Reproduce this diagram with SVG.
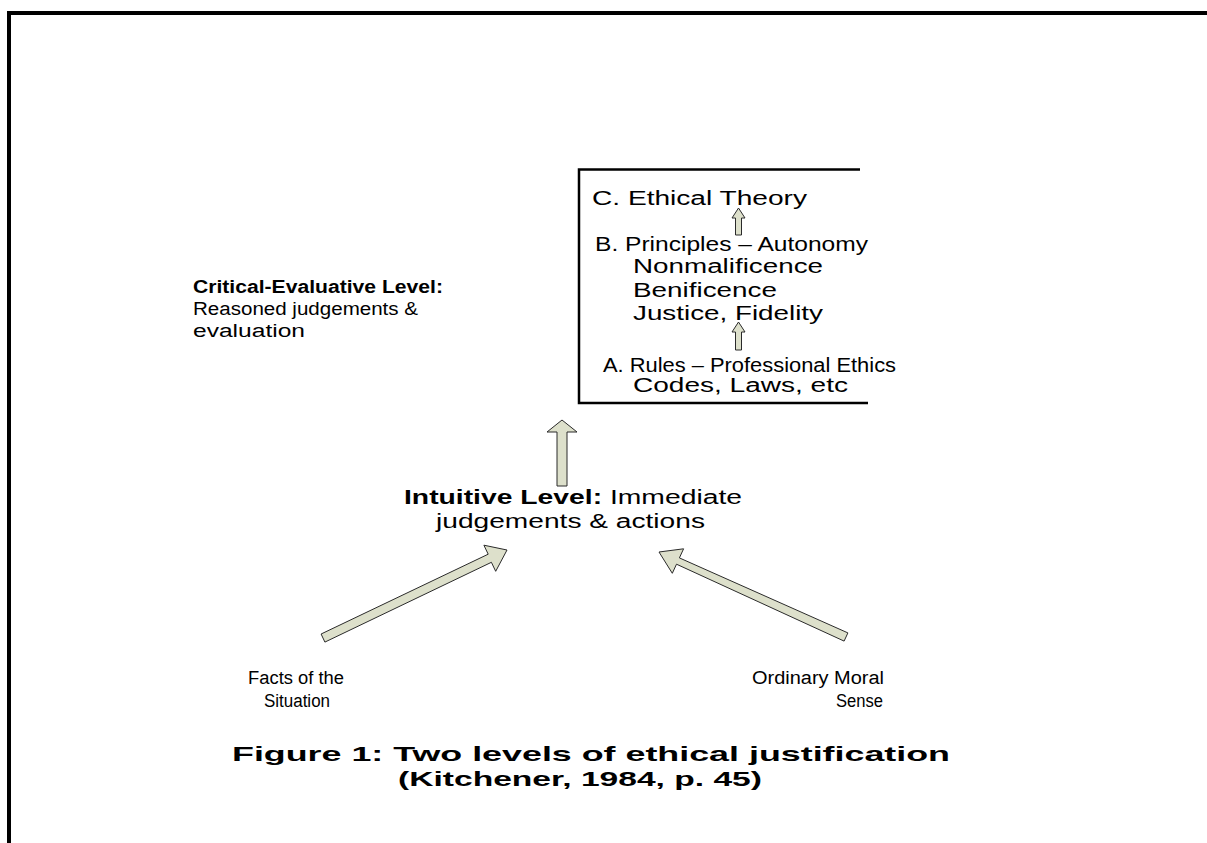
<svg xmlns="http://www.w3.org/2000/svg" width="1207" height="843" viewBox="0 0 1207 843">
<style>
text{font-family:"Liberation Sans",Arial,sans-serif;fill:#000}
.bx{font-size:19.5px}
.lb{font-size:18px}
.cap{font-size:21px;font-weight:bold}
.b{font-weight:bold}
.arr{fill:#dde0cb;stroke:#2a2a2a;stroke-width:1}
</style>
<rect width="1207" height="843" fill="#fff"/>
<g id="page-border" fill="none" stroke="#000" stroke-width="4">
<path d="M9 843 V13 H1207"/>
</g>
<g id="levels-box">
<path d="M860 169.5 H579 V403 H868" fill="none" stroke="#000" stroke-width="2.5"/>
<text class="bx" x="592" y="205" textLength="215" lengthAdjust="spacingAndGlyphs">C. Ethical Theory</text>
<text class="bx" x="595" y="251" textLength="273" lengthAdjust="spacingAndGlyphs">B. Principles – Autonomy</text>
<text class="bx" x="633" y="273" textLength="190" lengthAdjust="spacingAndGlyphs">Nonmalificence</text>
<text class="bx" x="633" y="297" textLength="144" lengthAdjust="spacingAndGlyphs">Benificence</text>
<text class="bx" x="633" y="320" textLength="190" lengthAdjust="spacingAndGlyphs">Justice, Fidelity</text>
<text class="bx" x="603" y="372" textLength="293" lengthAdjust="spacingAndGlyphs">A. Rules – Professional Ethics</text>
<text class="bx" x="633" y="392" textLength="215" lengthAdjust="spacingAndGlyphs">Codes, Laws, etc</text>
</g>
<g id="critical-label">
<text class="lb b" x="193" y="293" textLength="250" lengthAdjust="spacingAndGlyphs">Critical-Evaluative Level:</text>
<text class="lb" x="193" y="315" textLength="225" lengthAdjust="spacingAndGlyphs">Reasoned judgements &amp;</text>
<text class="lb" x="193" y="337" textLength="112" lengthAdjust="spacingAndGlyphs">evaluation</text>
</g>
<g id="intuitive-level">
<text class="bx" x="404" y="504" textLength="338" lengthAdjust="spacingAndGlyphs"><tspan class="b">Intuitive Level:</tspan> Immediate</text>
<text class="bx" x="436" y="528" textLength="269" lengthAdjust="spacingAndGlyphs">judgements &amp; actions</text>
</g>
<g id="facts">
<text class="lb" x="248" y="684" textLength="96" lengthAdjust="spacingAndGlyphs">Facts of the</text>
<text class="lb" x="264" y="707" textLength="66" lengthAdjust="spacingAndGlyphs">Situation</text>
</g>
<g id="moral-sense">
<text class="lb" x="752" y="684" textLength="132" lengthAdjust="spacingAndGlyphs">Ordinary Moral</text>
<text class="lb" x="836" y="707" textLength="47" lengthAdjust="spacingAndGlyphs">Sense</text>
</g>
<g id="caption">
<text class="cap" x="232" y="761" textLength="718" lengthAdjust="spacingAndGlyphs">Figure 1: Two levels of ethical justification</text>
<text class="cap" x="398" y="786" textLength="364" lengthAdjust="spacingAndGlyphs">(Kitchener, 1984, p. 45)</text>
</g>
<g id="connectors">
<polygon class="arr" points="735.5,235 735.5,218 732,218 738.5,208 745,218 741.5,218 741.5,235"/>
<polygon class="arr" points="735.5,350 735.5,332 732,332 738.5,322 745,332 741.5,332 741.5,350"/>
<polygon class="arr" points="557,486 557,432 547,432 562,420 577,432 567,432 567,486"/>
<polygon class="arr" points="324.9,642.1 491.4,562.3 495.7,571.3 507,550 483.9,545.2 488.2,554.2 321.1,634.0"/>
<polygon class="arr" points="844.1,641.1 676.5,564.2 672.3,573.3 659,552 683.6,548.8 679.4,557.9 847.9,632.9"/>
</g>
</svg>
